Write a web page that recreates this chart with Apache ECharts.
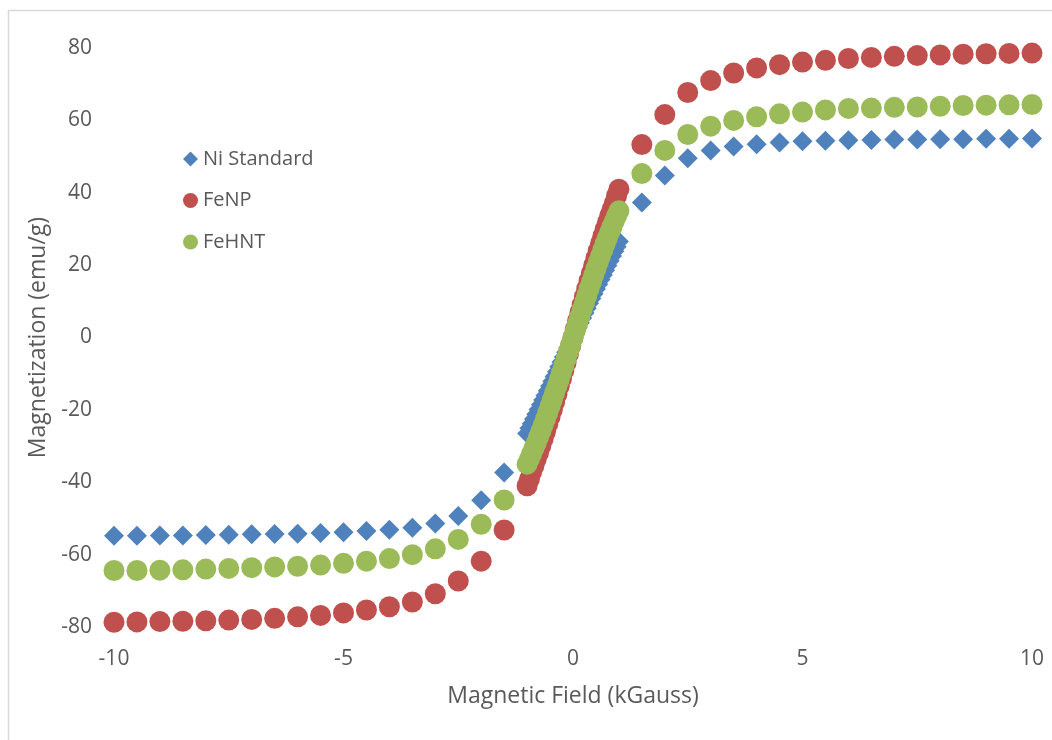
<!DOCTYPE html>
<html>
<head>
<meta charset="utf-8">
<script src="https://cdn.jsdelivr.net/npm/echarts@6/dist/echarts.min.js"></script>
<style>
  html, body { margin: 0; padding: 0; background: #fff; }
  #chart { width: 1052px; height: 740px; }
</style>
</head>
<body>
<div id="chart"></div>
<script>
// Applied field (kGauss): coarse sweep on the wings, fine sweep through the origin
const fieldNeg = [-10, -9.5, -9, -8.5, -8, -7.5, -7, -6.5, -6, -5.5, -5, -4.5, -4, -3.5, -3, -2.5, -2, -1.5];
const fieldCore = [-1, -0.95, -0.9, -0.85, -0.8, -0.75, -0.7, -0.65, -0.6, -0.55, -0.5, -0.45, -0.4, -0.35, -0.3, -0.25, -0.2, -0.15, -0.1, -0.05,
  0, 0.05, 0.1, 0.15, 0.2, 0.25, 0.3, 0.35, 0.4, 0.45, 0.5, 0.55, 0.6, 0.65, 0.7, 0.75, 0.8, 0.85, 0.9, 0.95, 1];
const fieldPos = [1.5, 2, 2.5, 3, 3.5, 4, 4.5, 5, 5.5, 6, 6.5, 7, 7.5, 8, 8.5, 9, 9.5, 10];

// Magnetization (emu/g) – Ni Standard
const niNeg = [-54.8, -54.8, -54.7, -54.7, -54.6, -54.5, -54.4, -54.3, -54.2, -54.0, -53.8, -53.5, -53.1, -52.6, -51.4, -49.3, -45.0, -37.3];
const niCore = [-26.5, -25.1, -23.8, -22.5, -21.2, -19.9, -18.6, -17.3, -16.0, -14.7, -13.4, -12.1, -10.8, -9.45, -8.1, -6.75, -5.4, -4.05, -2.7, -1.35,
  0, 1.35, 2.7, 4.05, 5.4, 6.75, 8.1, 9.45, 10.8, 12.1, 13.4, 14.7, 16.0, 17.3, 18.6, 19.9, 21.2, 22.5, 23.8, 25.1, 26.5];
const niPos = [37.3, 44.8, 49.5, 51.7, 52.8, 53.4, 53.9, 54.2, 54.4, 54.5, 54.6, 54.7, 54.7, 54.8, 54.8, 54.9, 54.9, 55.0];

// Magnetization (emu/g) – FeNP
const feNpNeg = [-78.7, -78.6, -78.5, -78.4, -78.3, -78.1, -77.9, -77.6, -77.2, -76.8, -76.1, -75.3, -74.4, -73.1, -70.8, -67.3, -61.8, -53.2];
const feNpCore = [-41.0, -39.2, -37.1, -35.4, -33.6, -31.8, -29.9, -28.0, -26.0, -24.0, -22.0, -19.9, -17.8, -15.7, -13.5, -11.3, -9.1, -6.9, -4.6, -2.3,
  0, 2.3, 4.6, 6.9, 9.1, 11.3, 13.5, 15.7, 17.8, 19.9, 22.0, 24.0, 26.0, 28.0, 29.9, 31.8, 33.6, 35.4, 37.1, 39.2, 41.0];
const feNpPos = [53.3, 61.6, 67.7, 71.0, 73.1, 74.5, 75.4, 76.1, 76.6, 77.1, 77.4, 77.7, 77.9, 78.1, 78.3, 78.4, 78.5, 78.6];

// Magnetization (emu/g) – FeHNT
const feHntNeg = [-64.4, -64.4, -64.3, -64.2, -64.0, -63.8, -63.6, -63.4, -63.2, -62.9, -62.4, -61.8, -61.1, -60.0, -58.4, -55.8, -51.6, -44.9];
const feHntCore = [-35.0, -33.6, -32.1, -30.6, -29.1, -27.5, -25.9, -24.2, -22.5, -20.8, -19.0, -17.2, -15.3, -13.5, -11.6, -9.7, -7.8, -5.85, -3.9, -1.95,
  0, 1.95, 3.9, 5.85, 7.8, 9.7, 11.6, 13.5, 15.3, 17.2, 19.0, 20.8, 22.5, 24.2, 25.9, 27.5, 29.1, 30.6, 32.1, 33.6, 35.0];
const feHntPos = [45.3, 51.7, 56.1, 58.4, 60.0, 61.0, 61.8, 62.3, 62.9, 63.3, 63.4, 63.6, 63.7, 63.9, 64.1, 64.2, 64.3, 64.4];

const xTicks = [-10, -5, 0, 5, 10];
const yTicks = [-80, -60, -40, -20, 0, 20, 40, 60, 80];

function pairs(xs, ys) { return xs.map((x, i) => [x, ys[i]]); }
function sweep(neg, core, pos) {
  return pairs(fieldNeg, neg).concat(pairs(fieldCore, core), pairs(fieldPos, pos));
}

const textColor = '#595959';
const fontFamily = '"Open Sans", "Liberation Sans", sans-serif';

const chart = echarts.init(document.getElementById('chart'), null, { renderer: 'canvas' });
chart.setOption({
  animation: false,
  backgroundColor: '#fff',
  textStyle: { fontFamily: fontFamily, color: textColor },
  graphic: [{
    type: 'rect',
    shape: { x: 8.5, y: 10.5, width: 1200, height: 900 },
    style: { fill: 'none', stroke: '#d9d9d9', lineWidth: 1.5 },
    silent: true, z: -1
  }],
  grid: { left: 114, right: 20, top: 48, bottom: 113, containLabel: false },
  legend: {
    orient: 'vertical',
    left: 178,
    top: 144,
    itemGap: 21.5,
    itemWidth: 15,
    itemHeight: 15,
    textStyle: { fontSize: 20, color: textColor, fontFamily: fontFamily },
    data: ['Ni Standard', 'FeNP', 'FeHNT']
  },
  xAxis: {
    type: 'value',
    min: xTicks[0], max: xTicks[xTicks.length - 1], interval: 5,
    name: 'Magnetic Field (kGauss)',
    nameLocation: 'middle', nameGap: 58,
    nameTextStyle: { fontSize: 23, color: textColor, fontFamily: fontFamily },
    axisLine: { show: false }, axisTick: { show: false }, splitLine: { show: false },
    axisLabel: { fontSize: 21, color: textColor, margin: 22, fontFamily: fontFamily }
  },
  yAxis: {
    type: 'value',
    min: yTicks[0], max: yTicks[yTicks.length - 1], interval: 20,
    name: 'Magnetization (emu/g)',
    nameLocation: 'middle', nameGap: 64, nameRotate: 90,
    nameTextStyle: { fontSize: 23, color: textColor, fontFamily: fontFamily },
    axisLine: { show: false }, axisTick: { show: false }, splitLine: { show: false },
    axisLabel: { fontSize: 21, color: textColor, margin: 22, fontFamily: fontFamily }
  },
  series: [
    { name: 'Ni Standard', type: 'scatter', symbol: 'diamond', symbolSize: 20,
      itemStyle: { color: '#4F81BD', opacity: 1 }, data: sweep(niNeg, niCore, niPos) },
    { name: 'FeNP', type: 'scatter', symbol: 'circle', symbolSize: 21,
      itemStyle: { color: '#C0504D', opacity: 1 }, data: sweep(feNpNeg, feNpCore, feNpPos) },
    { name: 'FeHNT', type: 'scatter', symbol: 'circle', symbolSize: 21,
      itemStyle: { color: '#9BBB59', opacity: 1 }, data: sweep(feHntNeg, feHntCore, feHntPos) }
  ]
});
</script>
</body>
</html>
